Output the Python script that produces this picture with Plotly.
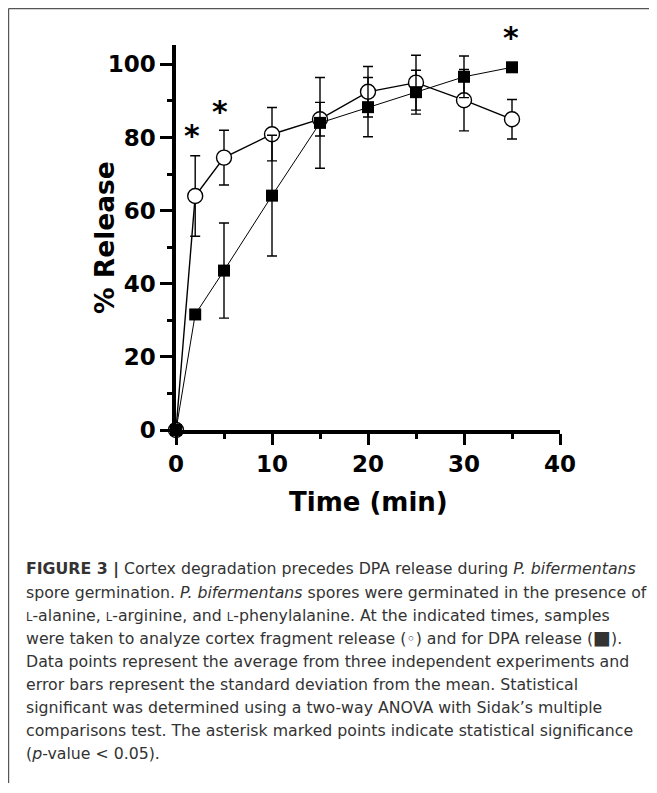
import plotly.graph_objects as go

# ---- data ----
time_min = [0, 2, 5, 10, 15, 20, 25, 30, 35]
cortex_release = [0, 64.0, 74.5, 80.9, 85.0, 92.5, 95.0, 90.2, 85.0]
cortex_sd = [0, 11.0, 7.5, 7.3, 4.6, 6.9, 7.5, 8.4, 5.4]
dpa_release = [0, 31.6, 43.6, 64.1, 84.0, 88.3, 92.4, 96.6, 99.2]
dpa_sd = [0, 1.0, 13.0, 16.5, 12.4, 8.1, 6.0, 5.7, 1.0]

star_x = [1.7, 4.6, 34.9]
star_y = [81.1, 87.9, 107.9]
star_text = ["*", "*", "*"]

x_ticks = [0, 10, 20, 30, 40]
y_ticks = [0, 20, 40, 60, 80, 100]
Y_MAX = 105.3

SC = "<span style='font-size:11.5px'>L</span>"
caption_lines = [
    "<b>FIGURE 3 |</b> Cortex degradation precedes DPA release during <i>P. bifermentans</i>",
    "spore germination. <i>P. bifermentans</i> spores were germinated in the presence of",
    SC + "-alanine, " + SC + "-arginine, and " + SC + "-phenylalanine. At the indicated times, samples",
    "were taken to analyze cortex fragment release (◦) and for DPA release "
    "(<span style='font-size:19px'>■</span>).",
    "Data points represent the average from three independent experiments and",
    "error bars represent the standard deviation from the mean. Statistical",
    "significant was determined using a two-way ANOVA with Sidak’s multiple",
    "comparisons test. The asterisk marked points indicate statistical significance",
    "(<i>p</i>-value &lt; 0.05).",
]

# ---- layout geometry (page body has an 8px margin) ----
OFF = 8
W, H = 657 - OFF, 775
L = 176 - OFF
T = 45 - OFF
R = W - (560 - OFF)
B = H - (430 - OFF)
PW = W - L - R
PH = H - T - B


def px_x(px):
    return (px - OFF - L) / PW


def px_y(py):
    return (H - B - (py - OFF)) / PH


BOLD = "DejaVu Sans, Liberation Sans, Arial, sans-serif"
CAP = "DejaVu Sans, Liberation Sans, Arial, sans-serif"

fig = go.Figure()

fig.add_trace(go.Scatter(
    x=time_min, y=cortex_release, mode="lines+markers",
    line=dict(color="black", width=1.4),
    marker=dict(symbol="circle", size=15, color="white",
                line=dict(color="black", width=1.4)),
    error_y=dict(type="data", array=cortex_sd, visible=True,
                 color="black", thickness=1.4, width=5),
    cliponaxis=False, showlegend=False, name="Cortex fragment release",
))

fig.add_trace(go.Scatter(
    x=time_min, y=dpa_release, mode="lines+markers",
    line=dict(color="black", width=1.0),
    marker=dict(symbol="square", size=12, color="black",
                line=dict(color="black", width=0)),
    error_y=dict(type="data", array=dpa_sd, visible=True,
                 color="black", thickness=1.4, width=5),
    cliponaxis=False, showlegend=False, name="DPA release",
))

annotations = []
# significance asterisks (y given in data units, placed via the axis domain)
for sx, sy, st in zip(star_x, star_y, star_text):
    annotations.append(dict(
        x=sx, y=sy / Y_MAX, xref="x", yref="y domain", text=st,
        showarrow=False,
        font=dict(family=BOLD, size=30, color="black", weight=700),
        xanchor="center", yanchor="middle", yshift=-2.5,
    ))

# axis titles
annotations.append(dict(
    x=px_x(368), y=px_y(502), xref="paper", yref="paper",
    text="Time (min)", showarrow=False,
    font=dict(family=BOLD, size=26, color="black", weight=700),
    xanchor="center", yanchor="middle",
))
annotations.append(dict(
    x=px_x(104), y=px_y(238), xref="paper", yref="paper",
    text="% Release", showarrow=False, textangle=-90,
    font=dict(family=BOLD, size=26.5, color="black", weight=700),
    xanchor="center", yanchor="middle",
))

# caption
for i, line in enumerate(caption_lines):
    baseline = 576.7 + 23.0 * i
    annotations.append(dict(
        x=px_x(24), y=px_y(baseline + 4.5), xref="paper", yref="paper",
        text=line, showarrow=False, align="left",
        font=dict(family=CAP, size=15.75, color="#333333"),
        xanchor="left", yanchor="bottom",
    ))

axis_font = dict(family=BOLD, size=23, color="black", weight=700)

frame = dict(color="#555555", width=1.2)

fig.update_layout(
    width=W, height=H,
    margin=dict(l=L, r=R, t=T, b=B),
    paper_bgcolor="white", plot_bgcolor="white",
    xaxis=dict(
        range=[0, 40], tickvals=x_ticks, showgrid=False, zeroline=False,
        showline=True, linecolor="black", linewidth=3.5,
        ticks="outside", ticklen=11, tickwidth=3, tickcolor="black",
        tickfont=axis_font,
        minor=dict(dtick=5, ticks="outside", ticklen=5, tickwidth=3,
                   tickcolor="black", showgrid=False),
    ),
    yaxis=dict(
        range=[0, Y_MAX], tickvals=y_ticks, showgrid=False, zeroline=False,
        showline=True, linecolor="black", linewidth=3.5,
        ticks="outside", ticklen=12, tickwidth=3, tickcolor="black",
        tickfont=axis_font,
        minor=dict(dtick=10, ticks="outside", ticklen=5, tickwidth=3,
                   tickcolor="black", showgrid=False),
    ),
    annotations=annotations,
    shapes=[
        dict(type="line", xref="paper", yref="paper",
             x0=px_x(8.6), x1=px_x(700), y0=px_y(8.6), y1=px_y(8.6),
             line=frame, layer="below"),
        dict(type="line", xref="paper", yref="paper",
             x0=px_x(8.6), x1=px_x(8.6), y0=px_y(8.6), y1=px_y(900),
             line=frame, layer="below"),
    ],
)

fig.write_html("out.html")
